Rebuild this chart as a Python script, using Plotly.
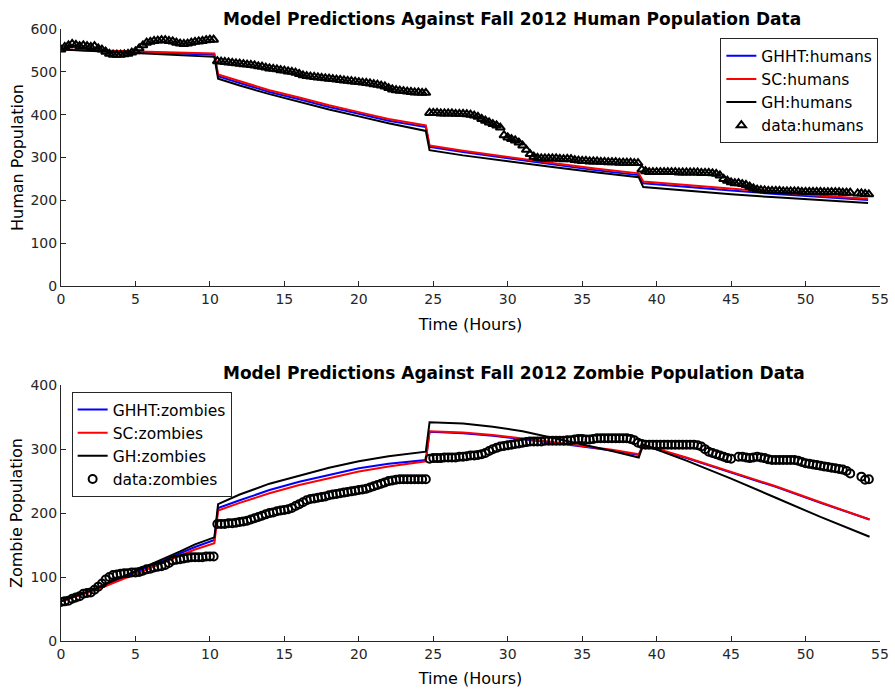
import plotly.graph_objects as go

# ---------------- data ----------------
STEP = 0.25  # hours between observations

# human data, four observation periods (start hour, values every 0.25 h)
hum_start = [0.0, 10.5, 24.75, 39.0]
hum_seg1 = [552, 558, 562, 565, 563, 560, 562, 560, 558, 560, 555, 552, 547, 542, 540, 540,
            540, 541, 542, 545, 548, 555, 562, 568, 570, 572, 573, 574, 574, 572, 571, 568,
            566, 565, 566, 568, 570, 571, 572, 574, 575, 575]
hum_seg2 = [525, 524, 523, 522, 521, 520, 519, 518, 517, 516, 515, 513, 512, 510, 508, 507,
            506, 504, 503, 501, 500, 498, 495, 492, 490, 489, 488, 487, 486, 485, 484, 483,
            482, 481, 480, 479, 478, 477, 476, 475, 474, 473, 471, 470, 468, 466, 462, 459,
            457, 456, 455, 454, 453, 452, 452, 451, 451]
hum_seg3 = [404, 404, 404, 403, 403, 403, 403, 402, 402, 402, 401, 400, 398, 395, 390, 386,
            382, 378, 375, 370, 352, 347, 343, 340, 335, 328, 318, 308, 302, 299, 298, 298,
            298, 298, 298, 297, 296, 297, 296, 294, 293, 292, 292, 291, 291, 291, 290, 290,
            289, 289, 289, 288, 288, 288, 288, 287, 287]
hum_seg4 = [272, 268, 266, 266, 266, 266, 266, 266, 266, 266, 265, 265, 265, 265, 265, 265,
            264, 264, 264, 263, 262, 258, 250, 246, 242, 240, 240, 238, 236, 232, 228, 225,
            224, 223, 222, 222, 222, 222, 221, 221, 221, 221, 221, 220, 220, 220, 220, 220,
            220, 219, 219, 219, 219, 219, 218, 218, 218, None, 216, 216, 215, 214]

# zombie data
zom_start = [0.0, 10.5, 24.75, 39.0]
zom_seg1 = [61, 62, 63, 66, 68, 70, 74, 75, 76, 80, 85, 90, 96, 100, 103, 104,
            105, 106, 106, 107, 107, 108, 110, 112, 113, 115, 116, 117, 119, 122, 126, 127,
            128, 129, 130, 131, 131, 131, 131, 132, 132, 132]
zom_seg2 = [183, 183, 183, 184, 184, 185, 186, 187, 188, 190, 192, 194, 196, 198, 200, 201,
            203, 204, 205, 206, 208, 211, 214, 217, 220, 222, 223, 224, 225, 226, 228, 229,
            230, 231, 232, 233, 234, 235, 236, 237, 238, 240, 242, 244, 246, 248, 250, 251,
            252, 253, 253, 253, 253, 253, 253, 253, 253]
zom_seg3 = [285, 286, 286, 286, 287, 287, 287, 287, 288, 288, 289, 290, 290, 291, 292, 294,
            297, 300, 302, 304, 305, 306, 307, 308, 309, 310, 311, 312, 312, 312, 312, 313,
            313, 313, 313, 313, 313, 314, 314, 315, 316, 316, 315, 315, 316, 317, 317, 317,
            317, 317, 317, 317, 317, 317, 316, 314, 310]
zom_seg4 = [308, 307, 307, 307, 307, 307, 307, 307, 307, 307, 307, 307, 307, 307, 307, 306,
            304, 300, 296, 294, 292, 290, 288, 286, 285, None, 288, 288, 287, 286, 287, 288,
            287, 286, 284, 283, 283, 283, 283, 283, 283, 283, 282, 280, 278, 277, 276, 275,
            274, 273, 272, 271, 270, 269, 268, 266, 262, None, None, 257, 252, 253]

# model predictions (knot hours and values)
model_t = [0, 3, 6, 8, 10.3,
           10.55, 12, 14, 16, 18, 20, 22, 24.5,
           24.75, 27, 30, 33, 36, 38.8,
           39.1, 42, 45, 48, 51, 54.2]
ghht_humans = [552, 548, 545, 543, 540,
               490, 474, 453, 436, 418, 402, 386, 371,
               325, 313, 298, 284, 270, 259,
               240, 231, 223, 215, 208, 201]
sc_humans = [552, 549, 547, 545, 543,
             494, 478, 457, 440, 422, 406, 390, 375,
             328, 316, 301, 287, 274, 263,
             244, 236, 227, 219, 211, 204]
gh_humans = [552, 547, 543, 540, 535,
             484, 468, 448, 430, 412, 396, 380, 362,
             317, 305, 291, 278, 265, 254,
             231, 222, 214, 207, 200, 194]

zmodel_t = [0, 1, 2, 3, 4, 5, 6, 7, 8, 9, 10.3,
            10.55, 12, 14, 16, 18, 20, 22, 24.5,
            24.75, 27, 29, 31, 33, 35, 37, 38.8,
            39.1, 42, 45, 48, 51, 54.3]
ghht_zombies = [62, 70, 78, 88, 98, 108, 117, 127, 137, 147, 158,
                208, 220, 236, 249, 260, 270, 277, 283,
                327, 325, 321, 316, 310, 304, 298, 291,
                306, 286, 264, 241, 216, 190]
sc_zombies = [62, 69, 77, 86, 95, 105, 114, 124, 134, 143, 153,
              204, 216, 231, 244, 255, 265, 273, 281,
              328, 326, 322, 317, 311, 305, 299, 292,
              307, 287, 265, 242, 217, 190]
gh_zombies = [62, 70, 79, 89, 99, 109, 119, 130, 140, 151, 162,
              214, 229, 246, 259, 271, 281, 289, 296,
              342, 340, 335, 328, 318, 308, 297, 287,
              307, 282, 254, 224, 194, 163]

x_ticks = [0, 5, 10, 15, 20, 25, 30, 35, 40, 45, 50, 55]
hum_ticks = [0, 100, 200, 300, 400, 500, 600]
zom_ticks = [0, 100, 200, 300, 400]


def build(starts, segs):
    t, v = [], []
    for s, vals in zip(starts, segs):
        for i, val in enumerate(vals):
            t.append(s + STEP * i)
            v.append(val)
    return t, v


ht, hv = build(hum_start, [hum_seg1, hum_seg2, hum_seg3, hum_seg4])
zt, zv = build(zom_start, [zom_seg1, zom_seg2, zom_seg3, zom_seg4])

FONT = "DejaVu Sans"
AX = "#262626"

fig = go.Figure()

# top: humans
fig.add_trace(go.Scatter(x=model_t, y=ghht_humans, mode="lines", name="GHHT:humans",
                         line=dict(color="#0000ff", width=2), xaxis="x", yaxis="y", legend="legend"))
fig.add_trace(go.Scatter(x=model_t, y=sc_humans, mode="lines", name="SC:humans",
                         line=dict(color="#ff0000", width=2), xaxis="x", yaxis="y", legend="legend"))
fig.add_trace(go.Scatter(x=model_t, y=gh_humans, mode="lines", name="GH:humans",
                         line=dict(color="#000000", width=2), xaxis="x", yaxis="y", legend="legend"))
fig.add_trace(go.Scatter(x=ht, y=hv, mode="markers", name="data:humans",
                         marker=dict(symbol="triangle-up-open", size=8, color="black",
                                     line=dict(width=2, color="black")),
                         xaxis="x", yaxis="y", legend="legend"))

# bottom: zombies
fig.add_trace(go.Scatter(x=zmodel_t, y=ghht_zombies, mode="lines", name="GHHT:zombies",
                         line=dict(color="#0000ff", width=2), xaxis="x2", yaxis="y2", legend="legend2"))
fig.add_trace(go.Scatter(x=zmodel_t, y=sc_zombies, mode="lines", name="SC:zombies",
                         line=dict(color="#ff0000", width=2), xaxis="x2", yaxis="y2", legend="legend2"))
fig.add_trace(go.Scatter(x=zmodel_t, y=gh_zombies, mode="lines", name="GH:zombies",
                         line=dict(color="#000000", width=2), xaxis="x2", yaxis="y2", legend="legend2"))
fig.add_trace(go.Scatter(x=zt, y=zv, mode="markers", name="data:zombies",
                         marker=dict(symbol="circle-open", size=8, color="black",
                                     line=dict(width=2, color="black")),
                         xaxis="x2", yaxis="y2", legend="legend2"))

axis_common = dict(showline=True, linecolor=AX, linewidth=1, ticks="inside", ticklen=5,
                   tickcolor=AX, tickfont=dict(family=FONT, size=14, color="#262626"),
                   showgrid=False, zeroline=False, mirror=False, automargin=False)

TITLE_X = (221 - 61) / 819

fig.update_layout(
    width=895, height=693,
    margin=dict(l=61, r=15, t=29, b=52),
    paper_bgcolor="white", plot_bgcolor="white",
    showlegend=True,
    font=dict(family=FONT, size=14, color="black"),
    xaxis=dict(domain=[0, 1], range=[0, 55], tickvals=x_ticks, anchor="y",
               title=dict(text="Time (Hours)", font=dict(size=16), standoff=12), **axis_common),
    yaxis=dict(domain=[0.58, 1.0], range=[0, 600], tickvals=hum_ticks, anchor="x",
               title=dict(text="Human Population", font=dict(size=16), standoff=2), **axis_common),
    xaxis2=dict(domain=[0, 1], range=[0, 55], tickvals=x_ticks, anchor="y2",
                title=dict(text="Time (Hours)", font=dict(size=16), standoff=12), **axis_common),
    yaxis2=dict(domain=[0, 0.418], range=[0, 400], tickvals=zom_ticks, anchor="x2",
                title=dict(text="Zombie Population", font=dict(size=16), standoff=3), **axis_common),
    legend=dict(x=0.998, y=0.985, xanchor="right", yanchor="top", bgcolor="white",
                bordercolor="#262626", borderwidth=1, itemwidth=30,
                font=dict(family=FONT, size=15.5, color="black")),
    legend2=dict(x=0.013, y=0.407, xanchor="left", yanchor="top", bgcolor="white",
                 bordercolor="#262626", borderwidth=1, itemwidth=30,
                 font=dict(family=FONT, size=15.5, color="black")),
    annotations=[
        dict(text="<b>Model Predictions Against Fall 2012 Human Population Data</b>",
             xref="paper", yref="paper", x=TITLE_X, y=1.0, yshift=-2, xanchor="left", yanchor="bottom",
             showarrow=False, font=dict(family=FONT, size=17, color="black")),
        dict(text="<b>Model Predictions Against Fall 2012 Zombie Population Data</b>",
             xref="paper", yref="paper", x=TITLE_X, y=0.418, yshift=0, xanchor="left", yanchor="bottom",
             showarrow=False, font=dict(family=FONT, size=17, color="black")),
    ],
)

fig.write_html("out.html", config={"displayModeBar": False},
               post_script="document.body.style.margin='0';document.body.style.overflow='hidden';")
